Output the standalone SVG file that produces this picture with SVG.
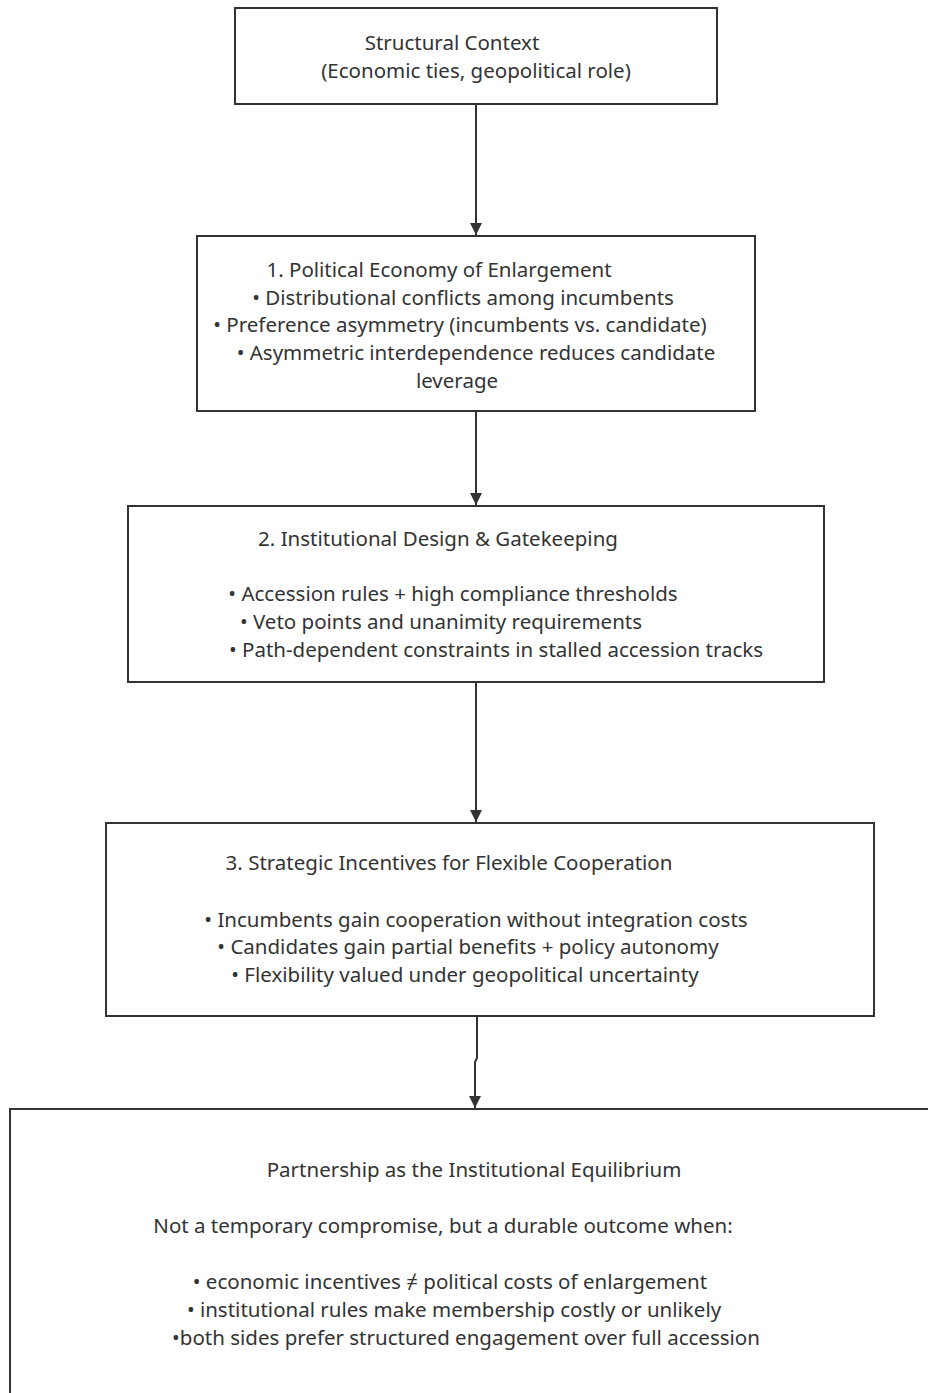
<svg xmlns="http://www.w3.org/2000/svg" width="928" height="1393" viewBox="0 0 928 1393">
<style>
.box{fill:#fff;stroke:#333;stroke-width:2}
.t{font-family:"Noto Sans","Open Sans",sans-serif;font-size:20.5px;fill:#333;text-anchor:middle}
.c{fill:none;stroke:#333;stroke-width:2}
</style>
<defs>
<marker id="ah" markerWidth="12" markerHeight="12" refX="10" refY="5" orient="auto" markerUnits="userSpaceOnUse" viewBox="0 0 10 10">
<path d="M0,0 L10,5 L0,10 z" fill="#333"/>
</marker>
</defs>
<rect width="928" height="1393" fill="#fff"/>
<g id="connectors">
<line class="c" x1="476" y1="104" x2="476" y2="235" marker-end="url(#ah)"/>
<line class="c" x1="476" y1="411" x2="476" y2="505" marker-end="url(#ah)"/>
<line class="c" x1="476" y1="682" x2="476" y2="822" marker-end="url(#ah)"/>
<polyline class="c" points="477,1016 477,1058 475,1062 475,1108" marker-end="url(#ah)"/>
</g>
<g id="node0">
<rect class="box" x="235" y="8" width="482" height="96"/>
<text class="t" x="452" y="50">Structural Context</text>
<text class="t" x="476" y="78">(Economic ties, geopolitical role)</text>
</g>
<g id="node1">
<rect class="box" x="197" y="236" width="558" height="175"/>
<text class="t" x="439" y="277">1. Political Economy of Enlargement</text>
<text class="t" x="463" y="305">• Distributional conflicts among incumbents</text>
<text class="t" x="460" y="332">• Preference asymmetry (incumbents vs. candidate)</text>
<text class="t" x="476" y="360">• Asymmetric interdependence reduces candidate</text>
<text class="t" x="457" y="388">leverage</text>
</g>
<g id="node2">
<rect class="box" x="128" y="506" width="696" height="176"/>
<text class="t" x="438" y="546">2. Institutional Design &amp; Gatekeeping</text>
<text class="t" x="453" y="601">• Accession rules + high compliance thresholds</text>
<text class="t" x="441" y="629">• Veto points and unanimity requirements</text>
<text class="t" x="496" y="657">• Path-dependent constraints in stalled accession tracks</text>
</g>
<g id="node3">
<rect class="box" x="106" y="823" width="768" height="193"/>
<text class="t" x="449" y="870">3. Strategic Incentives for Flexible Cooperation</text>
<text class="t" x="476" y="927">• Incumbents gain cooperation without integration costs</text>
<text class="t" x="468" y="954">• Candidates gain partial benefits + policy autonomy</text>
<text class="t" x="465" y="982">• Flexibility valued under geopolitical uncertainty</text>
</g>
<g id="node4">
<rect class="box" x="10" y="1109" width="940" height="300"/>
<text class="t" x="474" y="1177">Partnership as the Institutional Equilibrium</text>
<text class="t" x="443" y="1233">Not a temporary compromise, but a durable outcome when:</text>
<text class="t" x="450" y="1289">• economic incentives ≠ political costs of enlargement</text>
<text class="t" x="454" y="1317">• institutional rules make membership costly or unlikely</text>
<text class="t" x="466" y="1345">•both sides prefer structured engagement over full accession</text>
</g>
</svg>
